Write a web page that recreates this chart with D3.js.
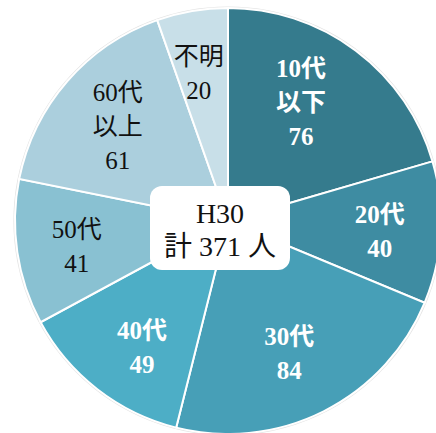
<!DOCTYPE html>
<html>
<head>
<meta charset="utf-8">
<script src="https://cdn.jsdelivr.net/npm/d3@7"></script>
<style>
  body { margin: 0; background: #fff; }
  text { font-family: "Liberation Serif", "DejaVu Serif", "Noto Sans CJK JP", serif; }
</style>
</head>
<body>
<div id="wrapper"></div>
<script>
// data
const categories = ["10代\n以下", "20代", "30代", "40代", "50代", "60代\n以上", "不明"]
const counts = [76, 40, 84, 49, 41, 61, 20]
const colors = ["#357b8d", "#3e8ca2", "#479fb7", "#4daec6", "#89c1d2", "#abcfdd", "#c8dfe8"]
const darkText = [false, false, false, false, true, true, true]
const centerLines = ["H30", "計 371 人"]

const dataset = categories.map((c, i) => ({
  label: c, value: counts[i], color: colors[i], dark: darkText[i]
}))

const dimensions = { width: 436, height: 433, cx: 228, cy: 221, radius: 213 }
// small hand nudges for label placement (px)
const nudges = [[-17, 1], [2, 2], [-6, -2], [6, 8], [-3, 3], [3, 4], [-4, 0]]

const svg = d3.select("#wrapper").append("svg")
    .attr("width", dimensions.width)
    .attr("height", dimensions.height)

const bounds = svg.append("g")
    .attr("transform", `translate(${dimensions.cx},${dimensions.cy})`)

const pie = d3.pie().value(d => d.value).sort(null)
const arcs = pie(dataset)

const arc = d3.arc().innerRadius(0).outerRadius(dimensions.radius)
const labelArc = d3.arc().innerRadius(150).outerRadius(150)

// faint outer edge
bounds.append("circle")
    .attr("r", dimensions.radius + 0.8)
    .attr("fill", "none")
    .attr("stroke", "#e4e4e4")
    .attr("stroke-width", 1.6)

bounds.selectAll(".slice")
    .data(arcs).enter().append("path")
        .attr("class", "slice")
        .attr("d", arc)
        .attr("fill", d => d.data.color)
        .attr("stroke", "#fff")
        .attr("stroke-width", 2)

const lineH = 34
const labels = bounds.selectAll(".label")
    .data(arcs).enter().append("text")
        .attr("class", "label")
        .attr("text-anchor", "middle")
        .attr("font-size", 25)
        .attr("fill", d => d.data.dark ? "#111" : "#fff")
        .attr("font-weight", d => d.data.dark ? "normal" : "bold")
        .attr("transform", (d, i) => {
          const [x, y] = labelArc.centroid(d)
          return `translate(${x + nudges[i][0]},${y + nudges[i][1]})`
        })

labels.each(function(d) {
  const lines = d.data.label.split("\n").concat([String(d.data.value)])
  const start = -(lines.length - 1) / 2 * lineH
  d3.select(this).selectAll("tspan")
      .data(lines).enter().append("tspan")
          .attr("x", 0)
          .attr("y", (l, i) => start + i * lineH)
          .attr("dy", "0.35em")
          .text(l => l)
})

// center box
bounds.append("rect")
    .attr("x", -78).attr("y", -35)
    .attr("width", 140).attr("height", 84)
    .attr("rx", 12)
    .attr("fill", "#fff")

bounds.selectAll(".center")
    .data(centerLines).enter().append("text")
        .attr("class", "center")
        .attr("text-anchor", "middle")
        .attr("x", -8)
        .attr("y", (d, i) => -8 + i * 33)
        .attr("dy", "0.35em")
        .attr("font-size", 28)
        .attr("fill", "#111")
        .text(d => d)
</script>
</body>
</html>
